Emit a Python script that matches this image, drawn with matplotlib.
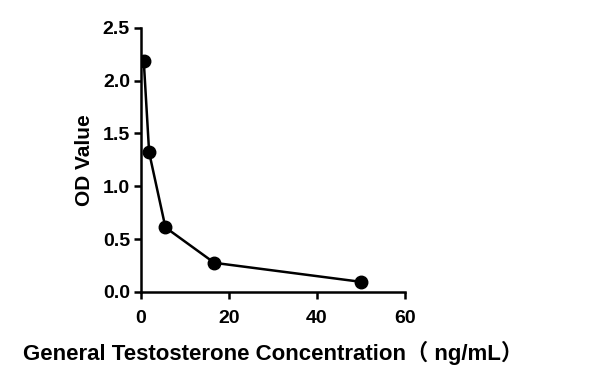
import matplotlib.pyplot as plt

# concentrations (ng/mL) and OD readings
conc = [0.62, 1.85, 5.56, 16.67, 50.0]
od = [2.19, 1.32, 0.61, 0.275, 0.095]

xticks = [0, 20, 40, 60]
yticks = [0.0, 0.5, 1.0, 1.5, 2.0, 2.5]

fams = ['Liberation Sans', 'Noto Sans CJK SC', 'DejaVu Sans']
plt.rcParams['font.family'] = fams
plt.rcParams['font.weight'] = 'bold'

fig = plt.figure(figsize=(5.9, 3.82), dpi=100)
ax = fig.add_axes([0.239, 0.236, 0.447, 0.691])

ax.plot(conc, od, color='black', lw=1.8, marker='o', ms=9)

ax.set_xlim(0, 60)
ax.set_ylim(0, 2.5)
ax.set_xticks(xticks)
ax.set_yticks(yticks)
ax.set_yticklabels(['%.1f' % v for v in yticks])

for s in ['top', 'right']:
    ax.spines[s].set_visible(False)
for s in ['left', 'bottom']:
    ax.spines[s].set_linewidth(1.8)
ax.tick_params(width=1.8, length=5, labelsize=14)
ax.tick_params(axis='x', pad=8)
ax.tick_params(axis='y', pad=3)
for lab in ax.get_xticklabels() + ax.get_yticklabels():
    lab.set_fontweight('bold')

ax.set_ylabel('OD Value', fontsize=15, fontweight='bold', labelpad=6)
ax.set_xlabel('General Testosterone Concentration（ ng/mL）', fontsize=16,
              fontweight='bold', labelpad=10)

fig.savefig('out.png', dpi=100)
